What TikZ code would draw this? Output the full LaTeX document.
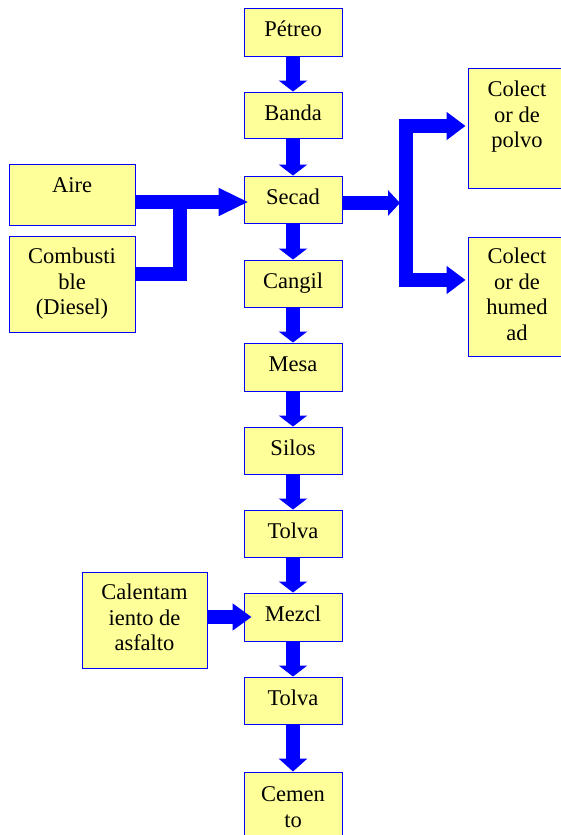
\documentclass[tikz,border=0pt]{standalone}
\usepackage{fontspec}
\setmainfont{Liberation Serif}
\usetikzlibrary{arrows.meta}
\definecolor{bblue}{RGB}{0,0,255}
\definecolor{byellow}{RGB}{255,255,153}
\newcommand{\lines}[1]{\begin{tabular}[t]{@{}c@{}}#1\end{tabular}}
\tikzset{
  box/.style={draw=bblue, fill=byellow, line width=0.9pt, minimum width=98pt, inner sep=0pt},
  lbl/.style={anchor=base, inner sep=0pt, font=\fontsize{22.5}{25.7}\selectfont},
  flow/.style={draw=bblue, line width=13.5pt, line join=miter},
  vtip/.style={-{Triangle[width=28pt,length=11pt]}},
}
\begin{document}
\begin{tikzpicture}[x=1pt,y=1pt]
\useasboundingbox (0,0) rectangle (560,835);
% main column
\node[box, minimum height=48pt] (pet) at (293,803) {};
\node[box, minimum height=46pt] (ban) at (293,720) {};
\node[box, minimum height=47pt] (sec) at (293,635.5) {};
\node[box, minimum height=47pt] (can) at (293,551.5) {};
\node[box, minimum height=48pt] (mes) at (293,468) {};
\node[box, minimum height=47pt] (sil) at (293,384.5) {};
\node[box, minimum height=47pt] (tolA) at (293,301.5) {};
\node[box, minimum height=48pt] (mez) at (293,218) {};
\node[box, minimum height=47pt] (tolB) at (293,134.5) {};
\node[box, minimum height=68pt] (cem) at (293,29) {};
% side boxes
\node[box, minimum width=126pt, minimum height=61pt] (aire) at (72,640.5) {};
\node[box, minimum width=126pt, minimum height=96pt] (comb) at (72,551) {};
\node[box, minimum height=120pt] (cpol) at (517,707) {};
\node[box, minimum height=119pt] (chum) at (517,538.5) {};
\node[box, minimum width=125pt, minimum height=96pt] (cal) at (144.5,215) {};
% labels
\node[lbl] (tpet) at ([yshift=-29pt]pet.north) {Pétreo};
\node[lbl] (tban) at ([yshift=-29pt]ban.north) {Banda};
\node[lbl] (tsec) at ([yshift=-29pt]sec.north) {Secad};
\node[lbl] (tcan) at ([yshift=-29pt]can.north) {Cangil};
\node[lbl] (tmes) at ([yshift=-29pt]mes.north) {Mesa};
\node[lbl] (tsil) at ([yshift=-29pt]sil.north) {Silos};
\node[lbl] (ttolA) at ([yshift=-29pt]tolA.north) {Tolva};
\node[lbl] (tmez) at ([yshift=-29pt]mez.north) {Mezcl};
\node[lbl] (ttolB) at ([yshift=-29pt]tolB.north) {Tolva};
\node[lbl] (tcem) at ([yshift=-30pt]cem.north) {\lines{Cemen\\to}};
\node[lbl] (taire) at ([yshift=-29pt]aire.north) {Aire};
\node[lbl] (tcomb) at ([yshift=-28pt]comb.north) {\lines{Combusti\\ble\\(Diesel)}};
\node[lbl] (tcpol) at ([yshift=-29pt]cpol.north) {\lines{Colect\\or de\\polvo}};
\node[lbl] (tchum) at ([yshift=-27pt]chum.north) {\lines{Colect\\or de\\humed\\ad}};
\node[lbl] (tcal) at ([yshift=-28pt]cal.north) {\lines{Calentam\\iento de\\asfalto}};
% connector coordinates
\coordinate (ya) at (0,633);
\coordinate (jc) at (180,633);
\coordinate (js) at (406,632);
\coordinate (yp) at (0,709);
\coordinate (yh) at (0,555);
% vertical flow
\draw[flow, vtip] (pet.south) -- (ban.north);
\draw[flow, vtip] (ban.south) -- (sec.north);
\draw[flow, vtip] (sec.south) -- (can.north);
\draw[flow, vtip] (can.south) -- (mes.north);
\draw[flow, vtip] (mes.south) -- (sil.north);
\draw[flow, vtip] (sil.south) -- (tolA.north);
\draw[flow, vtip] (tolA.south) -- (mez.north);
\draw[flow, vtip] (mez.south) -- (tolB.north);
\draw[flow, -{Triangle[width=28pt,length=13pt]}] (tolB.south) -- (cem.north);
% inputs to Secad
\draw[flow] (comb.east |- 0,561) -| (jc);
\draw[flow, -{Triangle[width=26pt,length=30pt]}] (aire.east |- ya) -- ([xshift=5pt]sec.west |- ya);
% outputs of Secad
\draw[flow, -{Triangle[width=25pt,length=12pt]}] (sec.east |- js) -- ([xshift=-6pt]js);
\draw[flow, -{Triangle[width=27pt,length=19pt]}] (js) |- ([xshift=-2pt]cpol.west |- yp);
\draw[flow, -{Triangle[width=27pt,length=19pt]}] (js) |- ([xshift=-2pt]chum.west |- yh);
% asphalt heating
\draw[flow, -{Triangle[width=26pt,length=19pt]}] (cal.east |- mez.west) -- ([xshift=8pt]mez.west);
\end{tikzpicture}
\end{document}
